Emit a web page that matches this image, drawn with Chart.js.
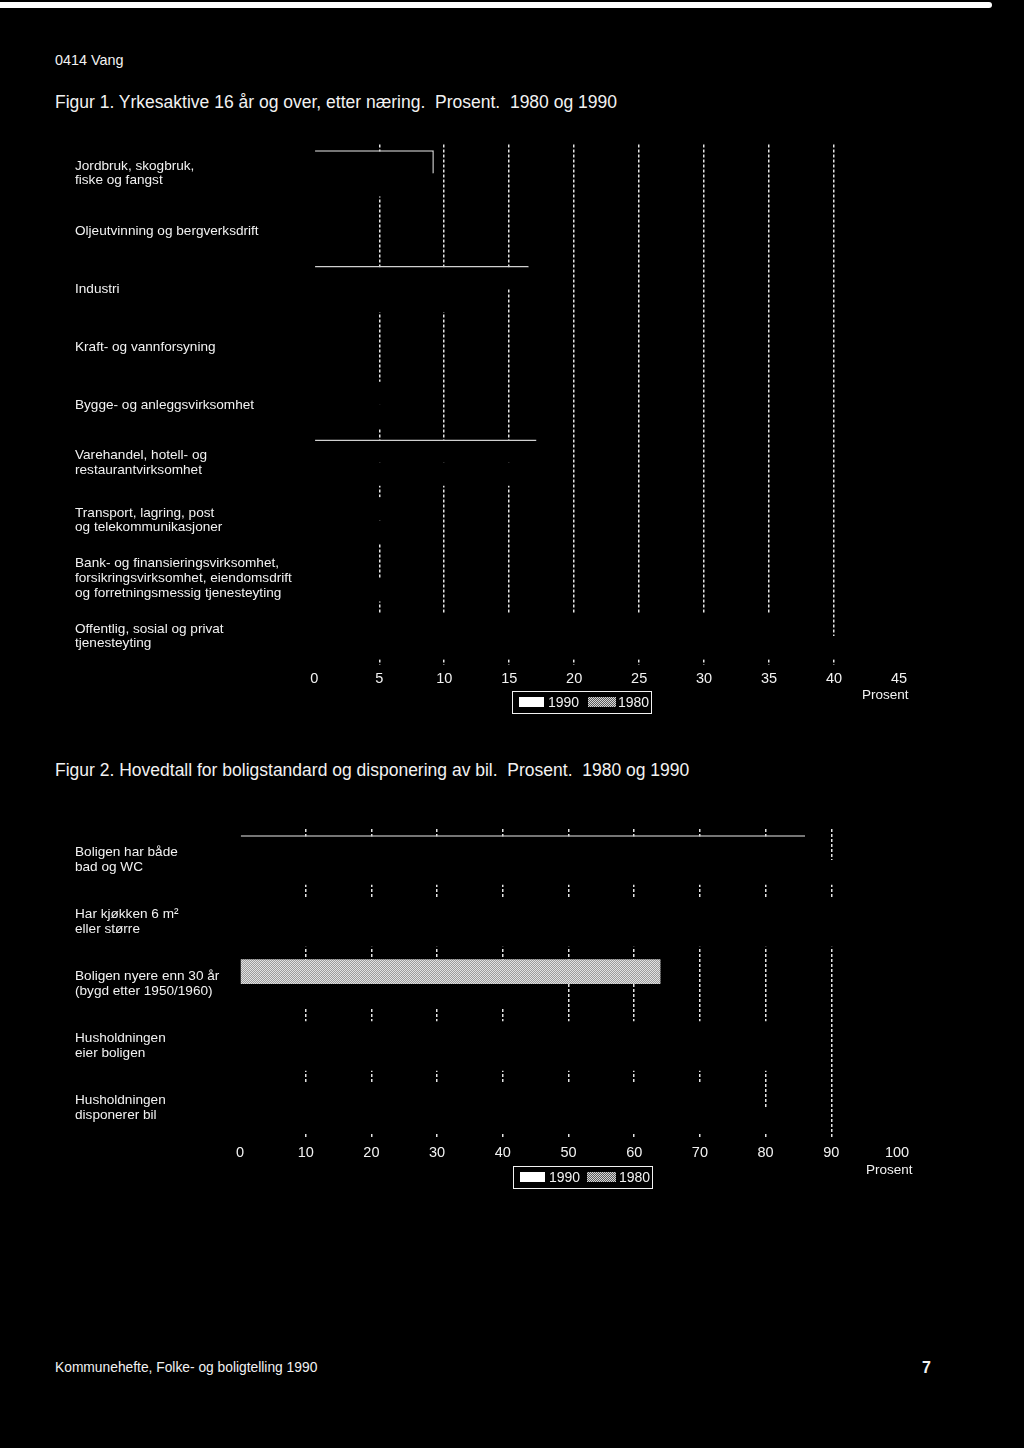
<!DOCTYPE html>
<html>
<head>
<meta charset="utf-8">
<script src="https://cdn.jsdelivr.net/npm/chart.js@4.4.0/dist/chart.umd.min.js"></script>
<style>
  body { margin: 0; background: #000; width: 1024px; height: 1448px; position: relative; overflow: hidden;
         font-family: "Liberation Sans", Arial, sans-serif; color: #f2f2f2; }
  .t { position: absolute; white-space: nowrap; line-height: 1.2; }
  canvas { position: absolute; left: 0; }
  .leg { position: absolute; border: 1.5px solid #f2f2f2; box-sizing: border-box; }
  .leg span { position: absolute; }
  .sw { height: 10px; }
  .dot { background: repeating-conic-gradient(#d8d8d8 0 25%, #5a5a5a 0 50%) 0 0 / 2px 2px; }
</style>
</head>
<body>
<div style="position:absolute;left:0;top:2px;width:992px;height:6px;background:#fff;border-radius:0 4px 4px 0"></div>

<div class="t" style="left:55px;top:52px;font-size:14.4px">0414 Vang</div>
<div class="t" style="left:55px;top:92px;font-size:17.5px">Figur 1. Yrkesaktive 16 år og over, etter næring.&nbsp; Prosent.&nbsp; 1980 og 1990</div>
<canvas id="fig1" width="1024" height="570" style="top:130px"></canvas>
<div class="leg" style="left:512px;top:691px;width:140px;height:23px">
  <span class="sw" style="left:6px;top:5px;width:25px;background:#fff"></span>
  <span style="left:35px;top:2px;font-size:14px">1990</span>
  <span class="sw dot" style="left:75px;top:5px;width:28px"></span>
  <span style="left:105px;top:2px;font-size:14px">1980</span>
</div>
<div class="t" style="left:862px;top:687px;font-size:13.5px">Prosent</div>

<div class="t" style="left:55px;top:760px;font-size:17.5px">Figur 2. Hovedtall for boligstandard og disponering av bil.&nbsp; Prosent.&nbsp; 1980 og 1990</div>
<canvas id="fig2" width="1024" height="360" style="top:810px"></canvas>
<div class="leg" style="left:513px;top:1166px;width:140px;height:23px">
  <span class="sw" style="left:6px;top:5px;width:25px;background:#fff"></span>
  <span style="left:35px;top:2px;font-size:14px">1990</span>
  <span class="sw dot" style="left:73px;top:5px;width:29px"></span>
  <span style="left:105px;top:2px;font-size:14px">1980</span>
</div>
<div class="t" style="left:866px;top:1162px;font-size:13.5px">Prosent</div>

<div class="t" style="left:55px;top:1360px;font-size:13.8px">Kommunehefte, Folke- og boligtelling 1990</div>
<div class="t" style="left:922px;top:1358px;font-size:16px;font-weight:bold">7</div>

<script>
// Figur 1: yrkesaktive etter naering
var naeringer = [
    ["Jordbruk, skogbruk,", "fiske og fangst"],
    "Oljeutvinning og bergverksdrift",
    "Industri",
    "Kraft- og vannforsyning",
    "Bygge- og anleggsvirksomhet",
    ["Varehandel, hotell- og", "restaurantvirksomhet"],
    ["Transport, lagring, post", "og telekommunikasjoner"],
    ["Bank- og finansieringsvirksomhet,", "forsikringsvirksomhet, eiendomsdrift", "og forretningsmessig tjenesteyting"],
    ["Offentlig, sosial og privat", "tjenesteyting"]
];
var naering1980 = [9.2, 0.2, 16.5, 1.0, 7.5, 17.1, 8.1, 4.4, 36.5];
var naering1990 = [7.1, 0.0, 12.5, 0.8, 7.3, 16.5, 6.3, 6.5, 42.0];
var ticks1 = [0, 5, 10, 15, 20, 25, 30, 35, 40, 45];

// Figur 2: boligstandard og bil
var boligKat = [
    ["Boligen har både", "bad og WC"],
    ["Har kjøkken 6 m²", "eller større"],
    ["Boligen nyere enn 30 år", "(bygd etter 1950/1960)"],
    ["Husholdningen", "eier boligen"],
    ["Husholdningen", "disponerer bil"]
];
var bolig1980 = [86, 93, 64, 84, 75];
var bolig1990 = [95, 96, 46, 86, 84];
var ticks2 = [0, 10, 20, 30, 40, 50, 60, 70, 80, 90, 100];

var fontFam = '"Liberation Sans", Arial, sans-serif';
var white = '#f2f2f2';

// grey dither used for the one bar that survived the scan
var pc = document.createElement('canvas');
pc.width = 2; pc.height = 2;
var px = pc.getContext('2d');
px.fillStyle = '#9c9c9c'; px.fillRect(0, 0, 2, 2);
px.fillStyle = '#e2e2e2'; px.fillRect(0, 0, 1, 1); px.fillRect(1, 1, 1, 1);
var greyPattern = px.createPattern(pc, 'repeat');

// faint outlines left on a few bars in the scan
function edges(map) {
    return function (c) { return map[c.dataIndex] || 0; };
}

function makeChart(id, labels, d80, d90, tickVals, pad, yWidth, xHeight, barFill, barEdges) {
    var max = tickVals[tickVals.length - 1];
    return new Chart(document.getElementById(id).getContext('2d'), {
        type: 'bar',
        data: {
            labels: labels,
            datasets: [
                { label: '1980', data: d80, backgroundColor: barFill, borderColor: '#d0d0d0',
                  borderWidth: edges(barEdges), borderSkipped: false },
                { label: '1990', data: d90, backgroundColor: '#000', borderWidth: 0 }
            ]
        },
        options: {
            indexAxis: 'y',
            responsive: false,
            animation: false,
            categoryPercentage: 0.8,
            barPercentage: 1.0,
            layout: { padding: pad },
            plugins: { legend: { display: false }, tooltip: { enabled: false } },
            scales: {
                x: {
                    min: 0, max: max,
                    afterBuildTicks: function (s) { s.ticks = tickVals.map(function (v) { return { value: v }; }); },
                    afterFit: function (s) { s.height = xHeight; },
                    ticks: { color: white, font: { family: fontFam, size: 14.5 }, padding: 5, maxRotation: 0, autoSkip: false },
                    grid: {
                        drawTicks: false,
                        lineWidth: 1.5,
                        color: function (c) {
                            var v = c.tick ? c.tick.value : 0;
                            return (v === 0 || v === max) ? 'rgba(0,0,0,0)' : '#e4e4e4';
                        }
                    },
                    border: { display: false, dash: [3, 2] }
                },
                y: {
                    afterFit: function (s) { s.width = yWidth; },
                    ticks: { color: white, crossAlign: 'far', padding: 0, font: { family: fontFam, size: 13.6, lineHeight: 1.07 } },
                    grid: { display: false },
                    border: { display: false }
                }
            }
        }
    });
}

makeChart('fig1', naeringer, naering1980, naering1990, ticks1,
    { left: 75, right: 125, top: 13, bottom: 0 }, 239.3, 35, '#000',
    { 0: { top: 1.5, right: 1.5 }, 2: { top: 1.5 }, 5: { top: 1.5 } });

makeChart('fig2', boligKat, bolig1980, bolig1990, ticks2,
    { left: 75, right: 127, top: 19, bottom: 0 }, 165, 31,
    function (c) { return c.dataIndex === 2 ? greyPattern : '#000'; },
    { 0: { top: 1.5 } });
</script>
</body>
</html>
